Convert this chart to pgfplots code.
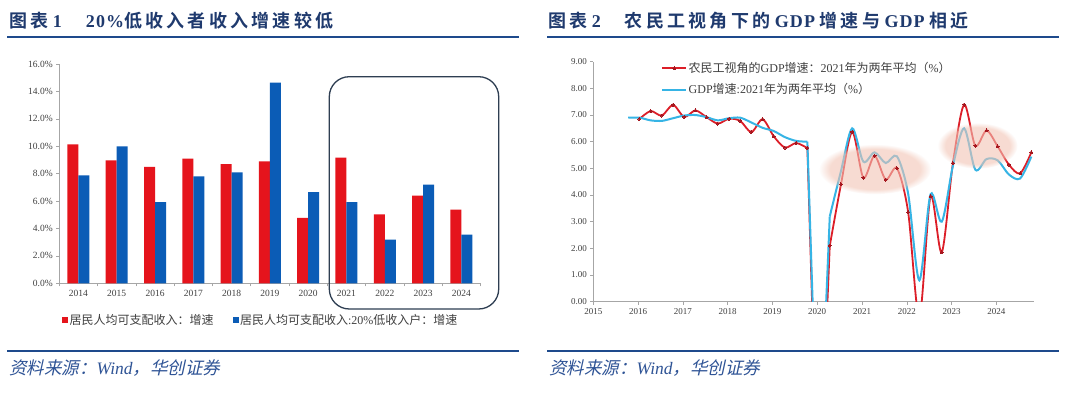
\documentclass[border=0pt]{standalone}
\usepackage{pgfplots}
\pgfplotsset{compat=1.18}
\usetikzlibrary{fadings}
\usepackage{fontspec}
\setmainfont{Liberation Serif}
\newfontfamily\cjk{Noto Sans CJK SC}[BoldFont={Noto Sans CJK SC Bold}]
\newfontfamily\cjkt{Noto Sans CJK SC}[BoldFont={Noto Sans CJK SC Bold}, LetterSpace=18]
\newfontfamily\latt{Liberation Serif}[LetterSpace=6]
\newfontfamily\cjkit{Noto Sans CJK SC}[FakeSlant=0.22]
\newcommand\zh[1]{{\cjk #1}}
\newcommand\zht[1]{{\cjkt #1}}
\definecolor{barred}{HTML}{E5141C}
\definecolor{barblue}{HTML}{0B5CB6}
\definecolor{linered}{HTML}{DC1E28}
\definecolor{lineblue}{HTML}{36B4E5}
\definecolor{titleblue}{HTML}{1F3A6E}
\definecolor{rulec}{HTML}{1E4A8C}
\definecolor{srcblue}{HTML}{2F5496}
\definecolor{axgray}{HTML}{A6A6A6}
\definecolor{txtgray}{HTML}{404040}
\definecolor{hl}{HTML}{F2C4B4}
\definecolor{boxc}{HTML}{2E3E52}

\pgfplotstableread{
x red blue
0 10.14 7.88
1 8.97 9.99
2 8.49 5.93
3 9.09 7.81
4 8.70 8.10
5 8.90 14.64
6 4.77 6.66
7 9.17 5.93
8 5.03 3.19
9 6.40 7.20
10 5.37 3.55
}\incometable

% migrant-worker-view GDP growth, in three pieces sharing end points
\pgfplotstableread{
t v
2016.03 6.85
2016.28 7.15
2016.53 6.98
2016.78 7.38
2017.03 6.93
2017.28 7.17
2017.53 6.92
2017.78 6.68
2018.03 6.86
2018.28 6.78
2018.53 6.36
2018.78 6.84
2019.03 6.20
2019.28 5.78
2019.53 5.95
2019.78 5.76
}\migrantA
\pgfplotstableread{
t v
2019.78 5.76
2020.03 -8.0
2020.28 2.1
}\migrantB
\pgfplotstableread{
t v
2020.28 2.1
2020.53 4.4
2020.78 6.37
2021.03 4.65
2021.28 5.47
2021.53 4.58
2021.78 5.00
2022.03 3.36
2022.28 -0.6
2022.53 3.95
2022.78 1.85
2023.03 5.20
2023.28 7.39
2023.53 5.85
2023.78 6.42
2024.03 5.82
2024.28 5.14
2024.53 4.81
2024.78 5.60
}\migrantC

% GDP growth
\pgfplotstableread{
t v
2015.78 6.90
2016.03 6.90
2016.28 6.80
2016.53 6.78
2016.78 6.88
2017.03 6.98
2017.28 7.00
2017.53 6.92
2017.78 6.80
2018.03 6.88
2018.28 6.90
2018.53 6.72
2018.78 6.52
2019.03 6.40
2019.28 6.17
2019.53 6.03
2019.78 6.00
}\gdpA
\pgfplotstableread{
t v
2019.78 6.00
2020.03 -6.8
2020.28 3.2
}\gdpB
\pgfplotstableread{
t v
2020.28 3.2
2020.53 4.9
2020.78 6.50
2021.03 5.25
2021.28 5.60
2021.53 5.20
2021.78 5.45
2022.03 4.05
2022.28 0.80
2022.53 4.03
2022.78 3.00
2023.03 5.10
2023.28 6.50
2023.53 4.95
2023.78 5.35
2024.03 5.30
2024.28 4.77
2024.53 4.62
2024.78 5.44
}\gdpC

\begin{document}
\begin{tikzpicture}
\begin{scope}[x=1pt,y=1pt]
\path[use as bounding box, fill=white] (0,0) rectangle (1080,394);
% titles
\node[anchor=west, inner sep=0pt, text=titleblue] at (9,373.5)
  {\bfseries\fontsize{18}{20}\selectfont\zht{图表} 1\hspace{24pt}{\latt 20\%}\zht{低收入者收入增速较低}};
\node[anchor=west, inner sep=0pt, text=titleblue] at (548,373.5)
  {\bfseries\fontsize{18}{20}\selectfont\zht{图表} 2\hspace{24pt}\zht{农民工视角下的} {\latt GDP} \zht{增速与} {\latt GDP} \zht{相近}};
\draw[rulec, line width=2.4pt] (7,357) -- (519,357);
\draw[rulec, line width=2.4pt] (547,357) -- (1059,357);
\draw[rulec, line width=2.4pt] (7,43) -- (519,43);
\draw[rulec, line width=2.4pt] (547,43) -- (1059,43);
\node[anchor=west, inner sep=0pt, text=srcblue] at (9,26)
  {\fontsize{17.5}{19}\selectfont{\cjkit 资料来源：}\textit{Wind}{\cjkit ，华创证券}};
\node[anchor=west, inner sep=0pt, text=srcblue] at (549,26)
  {\fontsize{17.5}{19}\selectfont{\cjkit 资料来源：}\textit{Wind}{\cjkit ，华创证券}};
\end{scope}

% ---------- left chart ----------
\begin{axis}[
  at={(59.3pt,110.7pt)}, anchor=south west, scale only axis,
  width=421.2pt, height=219.3pt,
  xmin=-0.5, xmax=10.5, ymin=0, ymax=16,
  ybar=0pt, bar width=11pt,
  axis x line*=bottom, axis y line*=left,
  axis line style={axgray, line width=0.6pt},
  xtick={-0.5,0.5,...,10.5}, x tick label as interval,
  xticklabels={2014,2015,2016,2017,2018,2019,2020,2021,2022,2023,2024},
  ytick={0,2,4,6,8,10,12,14,16},
  yticklabels={0.0\%,2.0\%,4.0\%,6.0\%,8.0\%,10.0\%,12.0\%,14.0\%,16.0\%},
  tick style={axgray, line width=0.6pt}, tick align=outside, major tick length=3pt,
  ticklabel style={font=\fontsize{9.5}{10}\selectfont, text=txtgray},
  legend columns=2,
  legend image code/.code={\fill[#1, draw=none] (0pt,-2.8pt) rectangle (5.6pt,2.8pt);},
  legend style={at={(axis description cs:0.007,-0.167)}, anchor=west, draw=none, fill=none,
    font=\fontsize{12}{13}\selectfont, text=txtgray, inner sep=0pt,
    nodes={inner sep=1.5pt},
    /tikz/every even column/.append style={column sep=18pt}},
]
\addplot[fill=barred, draw=none] table[x=x, y=red] {\incometable};
\addlegendentry{\zh{居民人均可支配收入：增速}}
\addplot[fill=barblue, draw=none] table[x=x, y=blue] {\incometable};
\addlegendentry{\zh{居民人均可支配收入}:20\%\zh{低收入户：增速}}
\end{axis}

\begin{scope}[x=1pt,y=1pt]
\draw[boxc, line width=1.3pt, rounded corners=20pt] (329.3,85) rectangle (498.7,317.3);
\end{scope}

% ---------- right chart ----------
\begin{axis}[
  at={(593.3pt,92.3pt)}, anchor=south west, scale only axis,
  width=440.7pt, height=240pt,
  xmin=2015, xmax=2024.84, ymin=0, ymax=9,
  axis x line*=bottom, axis y line*=left,
  axis line style={axgray, line width=0.6pt},
  xtick={2015,2016,2017,2018,2019,2020,2021,2022,2023,2024},
  xticklabels={2015,2016,2017,2018,2019,2020,2021,2022,2023,2024},
  ytick={0,1,2,3,4,5,6,7,8,9},
  yticklabels={0.00,1.00,2.00,3.00,4.00,5.00,6.00,7.00,8.00,9.00},
  tick style={axgray, line width=0.6pt}, tick align=outside, major tick length=3pt,
  ticklabel style={font=\fontsize{9}{10}\selectfont, text=txtgray},
  legend cell align=left,
  legend image code/.code={\draw[mark repeat=2,mark phase=2,#1] plot coordinates {(0pt,0pt) (12pt,0pt) (24pt,0pt)};},
  legend style={at={(axis description cs:0.1536,1.004)}, anchor=north west, draw=none, fill=none,
    font=\fontsize{12}{13}\selectfont, text=txtgray, inner sep=0pt, row sep=6.5pt,
    nodes={inner sep=1.5pt}},
  redline/.style={linered, line width=1.8pt, mark=*, mark size=1.5pt,
    mark options={fill=linered!75!black, draw=linered!75!black, line width=0pt}},
  blueline/.style={lineblue, line width=2pt, no markers},
]
\addplot[redline, smooth] table[x=t, y=v] {\migrantA};
\addlegendentry{\zh{农民工视角的}GDP\zh{增速：}2021\zh{年为两年平均（}\%\zh{）}}
\addplot[redline, forget plot] table[x=t, y=v] {\migrantB};
\addplot[redline, smooth, forget plot] table[x=t, y=v] {\migrantC};
\addplot[blueline, smooth] table[x=t, y=v] {\gdpA};
\addlegendentry{GDP\zh{增速}:2021\zh{年为两年平均（}\%\zh{）}}
\addplot[blueline, forget plot] table[x=t, y=v] {\gdpB};
\addplot[blueline, smooth, forget plot] table[x=t, y=v] {\gdpC};
\fill[hl, opacity=0.6, path fading=circle with fuzzy edge 20 percent] (axis cs:2021.29,4.97) ellipse [x radius=56pt, y radius=25pt];
\fill[hl, opacity=0.6, path fading=circle with fuzzy edge 20 percent] (axis cs:2023.58,5.85) ellipse [x radius=40pt, y radius=23pt];
\end{axis}
\end{tikzpicture}
\end{document}
